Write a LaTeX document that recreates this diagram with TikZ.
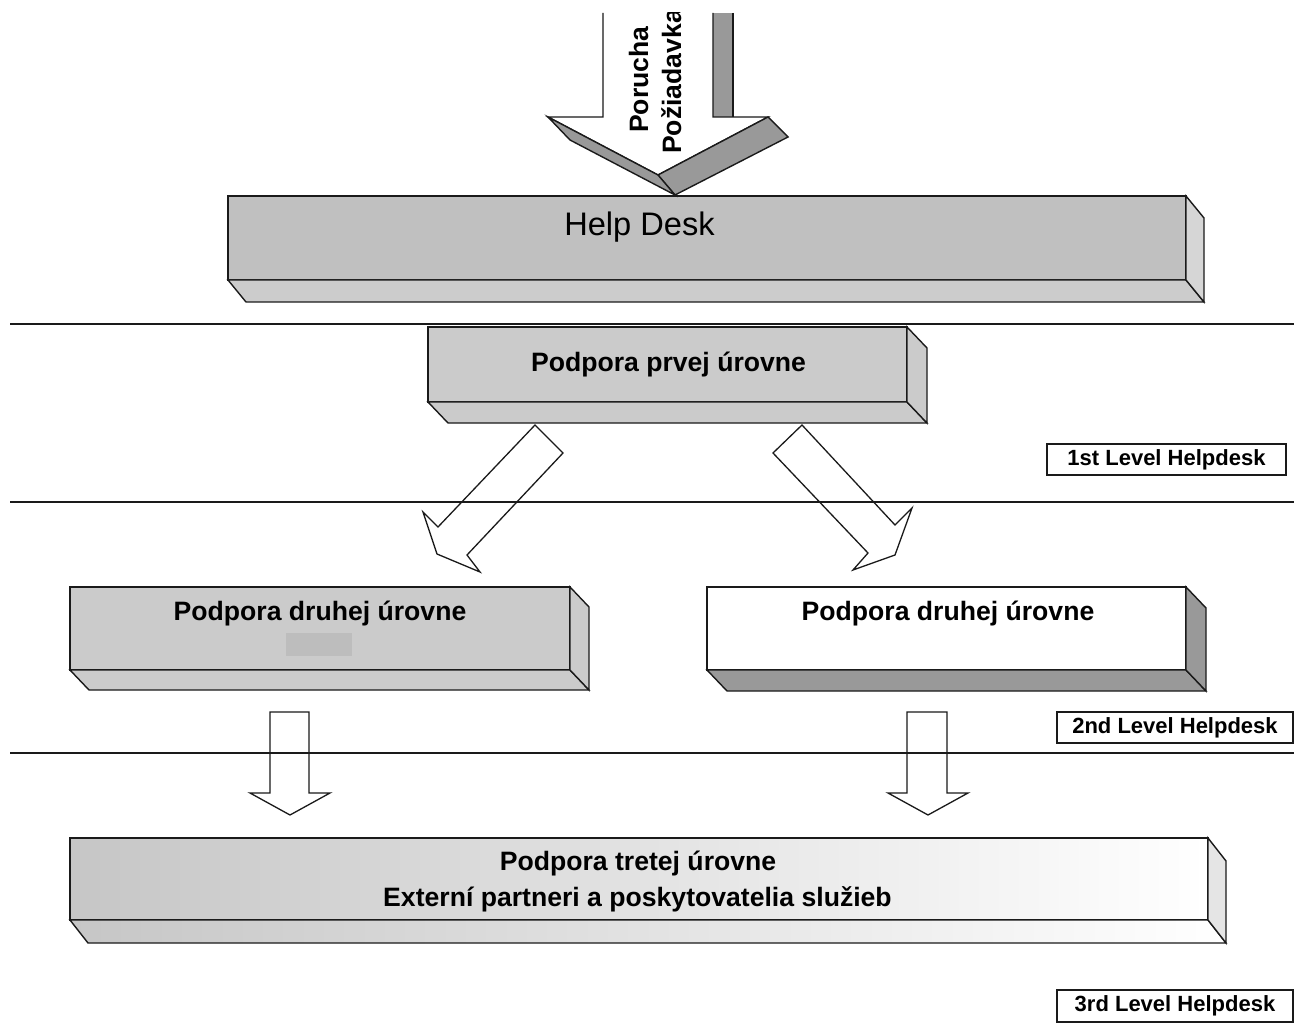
\documentclass[tikz,border=0pt]{standalone}
\usepackage{fontspec}
\setmainfont{Liberation Sans}
\begin{document}
\definecolor{hdfront}{HTML}{C0C0C0}
\definecolor{hdside}{HTML}{CCCCCC}
\definecolor{lg}{HTML}{CBCBCB}
\definecolor{dg}{HTML}{999999}
\definecolor{patch}{HTML}{BDBDBD}
\definecolor{grad}{HTML}{C6C6C6}
\definecolor{ink}{HTML}{1A1A1A}
\begin{tikzpicture}[x=1pt,y=-1pt,
  edge/.style={draw=ink, line width=1.4pt, line join=miter},
  front/.style={edge, rectangle, inner sep=0pt, outer sep=0pt},
  lbl/.style={font=\bfseries\fontsize{26.6}{30}\selectfont, inner sep=0pt},
  tag/.style={draw=ink, line width=1.7pt, fill=white, inner sep=0pt,
    font=\bfseries\fontsize{22}{25}\selectfont, text height=15pt, text depth=4pt},
  rule/.style={draw=ink, line width=1.4pt},
  hollow/.style={draw=ink, line width=1.3pt, line join=miter}
]
\useasboundingbox (0,0) rectangle (1294,1032);
\fill[white] (0,0) rectangle (1294,1032);

% horizontal rules
\coordinate (r1a) at (10,324); \coordinate (r1b) at (1294,324);
\coordinate (r2a) at (10,502); \coordinate (r2b) at (1294,502);
\coordinate (r3a) at (10,753); \coordinate (r3b) at (1294,753);
\draw[rule] (r1a) -- (r1b);
\draw[rule] (r2a) -- (r2b);
\draw[rule] (r3a) -- (r3b);

% Help Desk box
\node[front, fill=hdfront, minimum width=958pt, minimum height=84pt] (hd) at (707,238) {};
\draw[edge, fill=hdside] (hd.south west) -- (hd.south east) -- ++(18,22) -- ++(-958,0) -- cycle;
\draw[edge, fill=hdside!80!white] (hd.north east) -- ++(18,22) -- ++(0,84) -- (hd.south east) -- cycle;
\node[font=\fontsize{32.6}{36}\selectfont, inner sep=0pt, anchor=base] (hdt) at (639.5,236) {Help Desk};

% top arrow
\fill[white] (603,13) -- (603,117) -- (548,117) -- (658,175) -- (768,117) -- (713,117) -- (713,13) -- cycle;
\fill[dg] (713,13) rectangle (733,117);
\draw[edge] (603,13) -- (603,117) -- (548,117) -- (658,175) -- (768,117) -- (713,117) -- (713,13);
\draw[edge] (733,13) -- (733,117);
\draw[edge, fill=dg] (658,175) -- (768,117) -- (788,137) -- (675,195) -- cycle;
\draw[edge, fill=dg] (548,117) -- (658,175) -- (675,195) -- (570,140) -- cycle;
\begin{scope}
\clip (0,13) rectangle (1294,1032);
\node[lbl, rotate=90, anchor=base west] (por) at (648,133) {Porucha};
\node[lbl, rotate=90, anchor=base west] (poz) at (681,154) {Požiadavka};
\end{scope}

% Podpora prvej urovne
\node[front, fill=lg, minimum width=479pt, minimum height=75pt] (p1) at (667.5,364.5) {};
\draw[edge, fill=lg] (p1.south west) -- (p1.south east) -- ++(20,21) -- ++(-479,0) -- cycle;
\draw[edge, fill=lg] (p1.north east) -- ++(20,21) -- ++(0,75) -- (p1.south east) -- cycle;
\node[lbl, anchor=base] (p1t) at (668.5,372) {Podpora prvej úrovne};

% diagonal arrows
\draw[hollow] (535,425) -- (563,453) -- (467,555) -- (480,572) -- (437,554) -- (423,512) -- (438,527) -- cycle;
\draw[hollow] (802,425) -- (773,453) -- (868,553) -- (853,570) -- (895,555) -- (912,508) -- (895,525) -- cycle;

% labels
\node[tag, minimum width=239pt, minimum height=31pt] (l1) at (1166.5,459.5) {1st Level Helpdesk};
\node[tag, minimum width=236pt, minimum height=31pt] (l2) at (1175,727.5) {2nd Level Helpdesk};
\node[tag, minimum width=236pt, minimum height=32pt] (l3) at (1175,1006) {3rd Level Helpdesk};

% Podpora druhej urovne (left)
\node[front, fill=lg, minimum width=500pt, minimum height=83pt] (p2a) at (320,628.5) {};
\draw[edge, fill=lg] (p2a.south west) -- (p2a.south east) -- ++(19,20) -- ++(-500,0) -- cycle;
\draw[edge, fill=lg] (p2a.north east) -- ++(19,20) -- ++(0,83) -- (p2a.south east) -- cycle;
\fill[patch] (286,633) rectangle (352,656);
\node[lbl, anchor=base] (p2at) at (320,620) {Podpora druhej úrovne};

% Podpora druhej urovne (right)
\node[front, fill=white, minimum width=479pt, minimum height=83pt] (p2b) at (946.5,628.5) {};
\draw[edge, fill=dg] (p2b.south west) -- (p2b.south east) -- ++(20,21) -- ++(-479,0) -- cycle;
\draw[edge, fill=dg] (p2b.north east) -- ++(20,21) -- ++(0,83) -- (p2b.south east) -- cycle;
\node[lbl, anchor=base] (p2bt) at (948,620) {Podpora druhej úrovne};

% vertical arrows
\draw[hollow] (270,712) -- (309,712) -- (309,793) -- (330,793) -- (290,815) -- (250,793) -- (270,793) -- cycle;
\draw[hollow] (907,712) -- (947,712) -- (947,793) -- (968,793) -- (928,815) -- (888,793) -- (907,793) -- cycle;

% Podpora tretej urovne
\node[front, left color=grad, right color=white, minimum width=1138pt, minimum height=82pt] (p3) at (639,879) {};
\draw[edge, left color=grad, right color=white] (p3.south west) -- (p3.south east) -- ++(18,23) -- ++(-1138,0) -- cycle;
\draw[edge, fill=black!10] (p3.north east) -- ++(18,23) -- ++(0,82) -- (p3.south east) -- cycle;
\node[lbl, anchor=base] (p3t) at (638,870) {Podpora tretej úrovne};
\node[lbl, anchor=base] (p3u) at (637.5,906) {Externí partneri a poskytovatelia služieb};
\end{tikzpicture}
\end{document}
